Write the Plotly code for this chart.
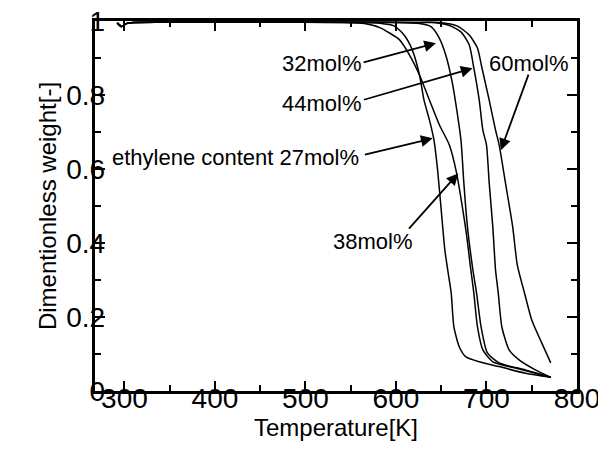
import plotly.graph_objects as go

# ---- data ----
x_ticks = [300, 400, 500, 600, 700, 800]
y_ticks = [0, 0.2, 0.4, 0.6, 0.8, 1]
y_tick_text = ["0", "0.2", "0.4", "0.6", "0.8", "1"]

temp_27 = [292, 297, 302, 310, 560, 582, 598, 609, 618, 626, 631, 637, 642, 646, 650, 654, 658, 661, 664, 670, 677, 692, 714, 743, 771]
w_27 = [0.995, 0.985, 0.993, 0.996, 0.996, 0.994, 0.987, 0.962, 0.922, 0.854, 0.786, 0.732, 0.678, 0.597, 0.489, 0.381, 0.314, 0.265, 0.173, 0.119, 0.093, 0.079, 0.066, 0.048, 0.037]

temp_32 = [292, 297, 302, 310, 600, 626, 639, 648, 655, 662, 668, 672, 675, 679, 685, 689, 694, 701, 714, 743, 771]
w_32 = [0.995, 0.985, 0.993, 0.996, 0.996, 0.993, 0.984, 0.953, 0.908, 0.836, 0.746, 0.673, 0.562, 0.443, 0.327, 0.265, 0.174, 0.103, 0.076, 0.057, 0.037]

temp_38 = [292, 297, 302, 310, 540, 565, 582, 604, 615, 626, 637, 648, 659, 667, 673, 678, 682, 686, 690, 696, 707, 732, 771]
w_38 = [0.995, 0.985, 0.993, 0.996, 0.996, 0.993, 0.982, 0.949, 0.908, 0.854, 0.786, 0.719, 0.665, 0.589, 0.503, 0.422, 0.341, 0.265, 0.174, 0.111, 0.079, 0.062, 0.037]

temp_44 = [292, 297, 302, 310, 620, 640, 659, 672, 681, 686, 692, 696, 700, 703, 707, 710, 713, 717, 725, 736, 754, 771]
w_44 = [0.995, 0.985, 0.993, 0.996, 0.996, 0.996, 0.988, 0.970, 0.935, 0.873, 0.786, 0.705, 0.665, 0.562, 0.443, 0.327, 0.265, 0.173, 0.111, 0.084, 0.057, 0.037]

temp_60 = [292, 297, 302, 310, 625, 648, 668, 681, 690, 695, 703, 710, 714, 721, 729, 734, 742, 750, 761, 771]
w_60 = [0.995, 0.985, 0.993, 0.996, 0.996, 0.996, 0.986, 0.962, 0.927, 0.873, 0.786, 0.705, 0.665, 0.562, 0.443, 0.341, 0.265, 0.192, 0.130, 0.076]

series = [
    ("27mol%", temp_27, w_27),
    ("32mol%", temp_32, w_32),
    ("38mol%", temp_38, w_38),
    ("44mol%", temp_44, w_44),
    ("60mol%", temp_60, w_60),
]

# labels: (text, text_x, text_y, anchor, tail_x, tail_y, tip_x, tip_y)
labels = [
    ("32mol%", 517.7, 0.884, "center", 562.6, 0.887, 644.2, 0.940),
    ("44mol%", 517.7, 0.778, "center", 562.9, 0.786, 684.6, 0.872),
    ("60mol%", 746.0, 0.884, "center", 747.0, 0.859, 715.9, 0.651),
    ("ethylene content 27mol%", 561.8, 0.630, "right", 564.0, 0.638, 640.5, 0.683),
    ("38mol%", 574.0, 0.403, "center", 612.9, 0.435, 668.8, 0.588),
]

X_RANGE = [267.5, 800]
Y_RANGE = [0, 1]
FONT = "Liberation Sans, Arial, sans-serif"

fig = go.Figure()
for name, xs, ys in series:
    fig.add_trace(go.Scatter(
        x=xs, y=ys, mode="lines", name=name,
        line=dict(color="black", width=1.5, shape="spline", smoothing=0.6),
        showlegend=False,
    ))

# empty trace so the label-carrying overlay axes get drawn
fig.add_trace(go.Scatter(x=[], y=[], xaxis="x2", yaxis="y2", mode="lines",
                         showlegend=False, hoverinfo="skip"))

for text, tx, ty, anc, ax, ay, hx, hy in labels:
    fig.add_annotation(x=tx, y=ty, xref="x", yref="y", text=text, showarrow=False,
                       xanchor=anc, yanchor="middle",
                       font=dict(family=FONT, size=22, color="black"))
    fig.add_annotation(x=hx, y=hy, ax=ax, ay=ay, xref="x", yref="y",
                       axref="x", ayref="y", text="", showarrow=True,
                       arrowhead=2, arrowsize=1.3, arrowwidth=1.8,
                       arrowcolor="black", standoff=0, startstandoff=0)

frame_axis = dict(
    showline=True, linecolor="black", linewidth=2.5, mirror="allticks",
    ticks="inside", ticklen=10, tickwidth=2, tickcolor="black",
    showgrid=False, zeroline=False, automargin=False, showticklabels=False,
)

fig.update_layout(
    width=598, height=451,
    margin=dict(l=87, r=29, t=13, b=68),
    paper_bgcolor="white", plot_bgcolor="white",
    xaxis=dict(
        range=X_RANGE, autorange=False, tickmode="array", tickvals=x_ticks,
        minor=dict(ticks="inside", ticklen=6, tickwidth=2, tickcolor="black", dtick=50, tick0=250),
        **frame_axis,
    ),
    yaxis=dict(
        range=Y_RANGE, autorange=False, tickmode="array", tickvals=y_ticks,
        minor=dict(ticks="inside", ticklen=6, tickwidth=2, tickcolor="black", dtick=0.1, tick0=0),
        **frame_axis,
    ),
    xaxis2=dict(
        overlaying="x", matches="x", anchor="free", position=0.032, side="bottom",
        range=X_RANGE, autorange=False, tickmode="array", tickvals=x_ticks,
        ticktext=[str(v) for v in x_ticks],
        showline=False, ticks="", showgrid=False, zeroline=False, automargin=False,
        ticklabeloverflow="allow",
        tickfont=dict(family=FONT, size=28, color="black"),
        title=dict(text="Temperature[K]", font=dict(family=FONT, size=24, color="black"), standoff=4),
    ),
    yaxis2=dict(
        overlaying="y", matches="y", anchor="free", position=0.021, side="left",
        range=Y_RANGE, autorange=False, tickmode="array", tickvals=y_ticks,
        ticktext=y_tick_text,
        showline=False, ticks="", showgrid=False, zeroline=False, automargin=False,
        ticklabeloverflow="allow",
        tickfont=dict(family=FONT, size=28, color="black"),
        title=dict(text="Dimentionless weight[-]", font=dict(family=FONT, size=24, color="black"), standoff=1),
    ),
)

fig.write_html("out.html")
